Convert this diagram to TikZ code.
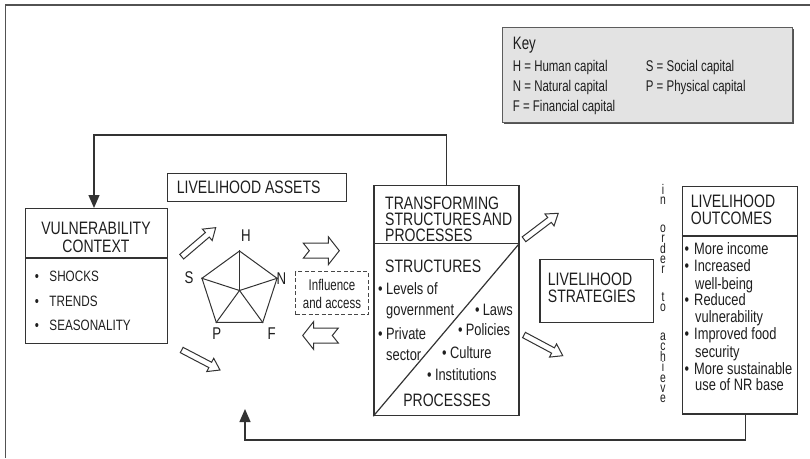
\documentclass[tikz,border=0pt]{standalone}
\usepackage{fontspec}
\setmainfont{Liberation Sans}[FakeStretch=0.78]
\newfontfamily\keyfont{Liberation Sans}[FakeStretch=0.74]
\usetikzlibrary{arrows.meta,shapes.geometric}
\definecolor{ln}{HTML}{333333}
\definecolor{keyfill}{HTML}{E3E3E3}
\definecolor{txtc}{HTML}{1E1E1E}
\newcommand\bu[1]{\textbullet\hspace{#1pt}}
\tikzset{
  box/.style={draw=ln, line width=1.2pt, inner sep=0pt, anchor=north west},
  divl/.style={draw=ln, line width=1.2pt},
  ttl/.style={font=\fontsize{18}{18}\selectfont, inner sep=0pt, text height=12.9pt, text depth=0pt, text=txtc},
  bod/.style={font=\fontsize{16.5}{16.5}\selectfont, inner sep=0pt, text height=11.8pt, text depth=0pt, text=txtc},
  vbod/.style={font=\fontsize{15}{15}\selectfont, inner sep=0pt, text height=10.8pt, text depth=0pt, text=txtc},
  ktxt/.style={font=\keyfont\fontsize{15.5}{15.5}\selectfont, inner sep=0pt, text height=11.1pt, text depth=0pt, text=txtc},
  hollow/.style={draw=ln, line width=1pt, fill=white, line join=miter},
  fb/.style={draw=ln, line width=1.3pt, -{Triangle[length=13pt,width=11pt]}},
  pics/diagarr/.style={code={\draw[hollow] (0,-3) -- ({#1-11},-3) -- ({#1-11},-7.5) -- (#1,0) -- ({#1-11},7.5) -- ({#1-11},3) -- (0,3) -- cycle;}},
  pics/notcharr/.style={code={\draw[hollow] (0,-7.5) -- ({#1-11},-7.5) -- ({#1-11},-14) -- (#1,0) -- ({#1-11},14) -- ({#1-11},7.5) -- (0,7.5) -- (6,0) -- cycle;}}
}
\begin{document}
\begin{tikzpicture}[x=1pt,y=-1pt]
\useasboundingbox (0,0) rectangle (810,458);
% outer frame
\draw[draw=ln!85, line width=1.6pt] (810,5) -- (5.5,5) -- (5.5,458);

% key
\fill[ln!85] (504,29) rectangle (794,124);
\node[box, fill=keyfill, draw=ln!80, line width=0.8pt, minimum width=290pt, minimum height=95pt] (key) at (501.7,26.7) {};
\node[ktxt, anchor=west, font=\keyfont\fontsize{18}{18}\selectfont, text height=12.8pt] (k0) at (512.7,43) {Key};
\node[ktxt, anchor=west] (k1) at (512.7,65.7) {H = Human capital};
\node[ktxt, anchor=west] (k2) at (512.7,86) {N = Natural capital};
\node[ktxt, anchor=west] (k3) at (512.7,106) {F = Financial capital};
\node[ktxt, anchor=west] (k4) at (645.7,65.7) {S = Social capital};
\node[ktxt, anchor=west] (k5) at (645.7,86) {P = Physical capital};

% vulnerability context
\node[box, minimum width=142pt, minimum height=135pt] (vuln) at (25,208) {};
\coordinate (vd) at (0,258);
\draw[divl] (vuln.west |- vd) -- (vuln.east |- vd);
\node[ttl] (v1) at (96,228) {VULNERABILITY};
\node[ttl] (v2) at (96,246) {CONTEXT};
\node[vbod, anchor=west] (v3) at (34.6,276) {\bu{10.6}SHOCKS};
\node[vbod, anchor=west] (v4) at (34.6,300.7) {\bu{10.6}TRENDS};
\node[vbod, anchor=west] (v5) at (34.6,325) {\bu{10.6}SEASONALITY};

% livelihood assets
\node[box, minimum width=179pt, minimum height=28pt] (assets) at (167,172.7) {};
\node[ttl, anchor=west] (a1) at (176.7,186.7) {LIVELIHOOD ASSETS};

% pentagon
\node[draw=ln, line width=1pt, regular polygon, regular polygon sides=5, minimum size=79pt, inner sep=0pt] (pent) at (239.5,290.5) {};
\foreach \i in {1,...,5} \draw[ln, line width=1pt] (pent.center) -- (pent.corner \i);
\node[bod, font=\fontsize{17}{17}\selectfont, text height=12pt] (lH) at (246,235) {H};
\node[bod, font=\fontsize{17}{17}\selectfont, text height=12pt] (lN) at (281.3,278) {N};
\node[bod, font=\fontsize{17}{17}\selectfont, text height=12pt] (lS) at (189,277) {S};
\node[bod, font=\fontsize{17}{17}\selectfont, text height=12pt] (lP) at (216.7,333.3) {P};
\node[bod, font=\fontsize{17}{17}\selectfont, text height=12pt] (lF) at (271.7,333) {F};

% influence and access
\node[draw=ln!90, dash pattern=on 4pt off 2.5pt, line width=1pt, minimum width=72.6pt, minimum height=43.3pt, inner sep=0pt] (infl) at (332,293.3) {};
\node[ktxt] (i1) at (332,285) {Influence};
\node[ktxt] (i2) at (332,302.7) {and access};

% block arrows
\pic[rotate=40.5] at (181.7,256.7) {diagarr=44.7};
\pic[rotate=-27.6] at (181.7,350) {diagarr=43.2};
\pic[rotate=37.2] at (524,239.3) {diagarr=43};
\pic[rotate=-28.1] at (524,335) {diagarr=43.9};
\pic at (303.3,250.7) {notcharr=36};
\pic[rotate=180] at (338.3,335.5) {notcharr=35.6};

% transforming structures
\node[box, minimum width=145pt, minimum height=230pt] (trans) at (373.3,185) {};
\coordinate (td) at (0,243.3);
\draw[divl] (trans.west |- td) -- (trans.east |- td);
\draw[divl] (trans.east |- td) -- (trans.south west);
\node[ttl, anchor=west] (t1) at (385,203.3) {TRANSFORMING};
\node[ttl, anchor=west] (t2) at (385,219.5) {STRUCTURES\hspace{1.5pt}AND};
\node[ttl, anchor=west] (t3) at (385,235.5) {PROCESSES};
\node[ttl, anchor=west] (t4) at (385,266) {STRUCTURES};
\node[bod, anchor=west] (t5) at (377.8,288.3) {\bu{3.6}Levels of};
\node[bod, anchor=west] (t6) at (386,309.3) {government};
\node[bod, anchor=west] (t7) at (474.8,309.3) {\bu{3.3}Laws};
\node[bod, anchor=west] (t8) at (377.8,334) {\bu{3.6}Private};
\node[bod, anchor=west] (t9) at (386,355) {sector};
\node[bod, anchor=west] (t10) at (457.8,330) {\bu{3.3}Policies};
\node[bod, anchor=west] (t11) at (441.8,352.7) {\bu{3.6}Culture};
\node[bod, anchor=west] (t12) at (427,374.3) {\bu{3.3}Institutions};
\node[ttl] (t13) at (447,400) {PROCESSES};

% strategies
\node[box, minimum width=113.4pt, minimum height=62.7pt] (strat) at (539.3,259) {};
\node[ttl, anchor=west] (s1) at (547.7,279.3) {LIVELIHOOD};
\node[ttl, anchor=west] (s2) at (547.7,295.7) {STRATEGIES};

% in order to achieve
\node[font=\keyfont\fontsize{14}{10.2}\selectfont, align=center, inner sep=0pt, anchor=north, text=txtc] (ioa) at (663,184) {i\\n\\[18pt]o\\r\\d\\e\\r\\[18pt]t\\o\\[18pt]a\\c\\h\\i\\e\\v\\e};

% outcomes
\node[box, minimum width=115pt, minimum height=227.3pt] (outc) at (681.7,186) {};
\coordinate (od) at (0,236);
\draw[divl] (outc.west |- od) -- (outc.east |- od);
\node[ttl, anchor=west] (o0) at (690.7,200.7) {LIVELIHOOD};
\node[ttl, anchor=west] (o00) at (690.7,218.3) {OUTCOMES};
\node[bod, anchor=west] (o1) at (684.5,249) {\bu{5}More income};
\node[bod, anchor=west] (o2) at (684.5,266) {\bu{5}Increased};
\node[bod, anchor=west] (o3) at (695,283.3) {well-being};
\node[bod, anchor=west] (o4) at (684.5,299.3) {\bu{5}Reduced};
\node[bod, anchor=west] (o5) at (695,316.7) {vulnerability};
\node[bod, anchor=west] (o6) at (684.5,334) {\bu{5}Improved food};
\node[bod, anchor=west] (o7) at (695,351.7) {security};
\node[bod, anchor=west] (o8) at (684.5,368.3) {\bu{5}More sustainable};
\node[bod, anchor=west] (o9) at (695,385) {use of NR base};

% feedback connectors
\coordinate (tb) at (94,135);
\draw[fb] (trans.north) |- (tb) -- (tb |- vuln.north);
\coordinate (bb) at (745.5,440);
\coordinate (btip) at (245,409);
\draw[fb] (outc.south -| bb) -- (bb) -| (btip);
\end{tikzpicture}
\end{document}
